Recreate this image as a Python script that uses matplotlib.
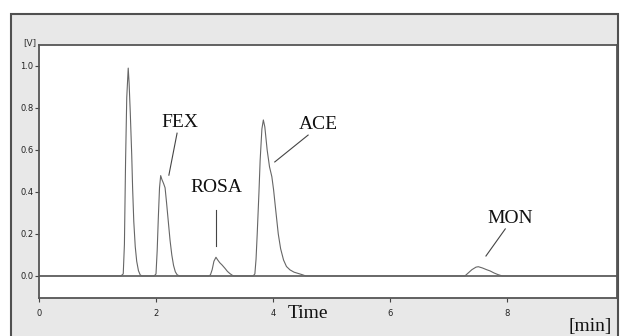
import matplotlib
matplotlib.use("Agg")
import matplotlib.pyplot as plt
from matplotlib.patches import Rectangle

# retention time [min] and detector signal [V]
rt = [0.0, 1.40, 1.44, 1.46, 1.48, 1.50, 1.525, 1.54, 1.56, 1.585, 1.60, 1.62, 1.645, 1.67, 1.70, 1.73, 1.76,
      1.97, 2.00, 2.02, 2.04, 2.06, 2.08, 2.10, 2.13, 2.155, 2.18, 2.21, 2.24, 2.27, 2.30, 2.33, 2.36, 2.40,
      2.90, 2.93, 2.96, 2.99, 3.025, 3.05, 3.09, 3.13, 3.18, 3.22, 3.26, 3.30, 3.33,
      3.66, 3.69, 3.71, 3.73, 3.76, 3.78, 3.81, 3.835, 3.86, 3.90, 3.94, 3.98, 4.01, 4.04, 4.09, 4.13, 4.18,
      4.23, 4.29, 4.36, 4.43, 4.50, 4.56,
      7.28, 7.32, 7.40, 7.47, 7.51, 7.58, 7.65, 7.71, 7.78, 7.85, 7.92, 9.86]
signal = [0.0, 0.0, 0.01, 0.15, 0.55, 0.85, 0.99, 0.92, 0.78, 0.576, 0.42, 0.26, 0.14, 0.07, 0.025, 0.005, 0.0,
          0.0, 0.01, 0.12, 0.28, 0.42, 0.478, 0.46, 0.44, 0.42, 0.35, 0.26, 0.17, 0.10, 0.05, 0.02, 0.006, 0.0,
          0.0, 0.005, 0.03, 0.07, 0.089, 0.078, 0.063, 0.052, 0.036, 0.022, 0.012, 0.004, 0.0,
          0.0, 0.01, 0.08, 0.2, 0.4, 0.55, 0.70, 0.743, 0.71, 0.60, 0.52, 0.473, 0.41, 0.33, 0.2, 0.13, 0.076,
          0.045, 0.029, 0.018, 0.012, 0.006, 0.0,
          0.0, 0.01, 0.03, 0.042, 0.044, 0.038, 0.03, 0.024, 0.014, 0.006, 0.0, 0.0]

# peak labels: text position and where the leader line points
labels = ["FEX", "ROSA", "ACE", "MON"]
label_xy = [(2.41, 0.733), (3.04, 0.42), (4.77, 0.72), (8.05, 0.276)]
line_start = [(2.36, 0.68), (3.03, 0.314), (4.60, 0.671), (7.97, 0.224)]
line_end = [(2.22, 0.48), (3.03, 0.143), (4.03, 0.543), (7.64, 0.095)]

xticks = [0, 2, 4, 6, 8]
yticks = [0.0, 0.2, 0.4, 0.6, 0.8, 1.0]

W, H = 620, 336
fig = plt.figure(figsize=(W / 100, H / 100), dpi=100)
fig.patch.set_facecolor("white")

# grey instrument panel behind the plot
fig.patches.append(Rectangle((11 / W, -0.05), (618 - 11) / W, (336 - 14) / H + 0.05,
                             transform=fig.transFigure, facecolor="#e8e8e8",
                             edgecolor="#505050", linewidth=1.5, zorder=-5))

ax = fig.add_axes([39 / W, 38 / H, (617 - 39) / W, (298 - 45) / H])
ax.set_facecolor("white")
ax.set_xlim(0, 9.88)
ax.set_ylim(-0.105, 1.1)

ax.axhline(0, color="#707070", lw=1.4, zorder=1)
ax.plot(rt, signal, color="#666666", lw=0.8, zorder=2)

serif = "Liberation Serif"
for lab, txy, p0, p1 in zip(labels, label_xy, line_start, line_end):
    ax.text(txy[0], txy[1], lab, fontsize=14, family=serif, color="#111111",
            ha="center", va="center")
    ax.plot([p0[0], p1[0]], [p0[1], p1[1]], color="#444444", lw=0.8)

for s in ax.spines.values():
    s.set_color("#555555")
    s.set_linewidth(1.3)

ax.set_xticks(xticks)
ax.set_xticklabels([str(t) for t in xticks])
ax.set_yticks(yticks)
ax.set_yticklabels([f"{v:.1f}" for v in yticks])
ax.tick_params(axis="both", direction="out", length=3, width=0.8, colors="#444444",
               labelsize=6, labelcolor="#222222")
ax.tick_params(axis="x", pad=5)
ax.tick_params(axis="y", pad=1)

fig.text(30 / W, 1 - 43 / H, "[V]", fontsize=6.5, color="#333333", ha="center", va="center")
fig.text(308 / W, 1 - 314 / H, "Time", fontsize=14, family=serif, color="#111111",
         ha="center", va="center")
fig.text(590 / W, 1 - 326 / H, "[min]", fontsize=14, family=serif, color="#111111",
         ha="center", va="center")

fig.savefig("out.png", dpi=100)
